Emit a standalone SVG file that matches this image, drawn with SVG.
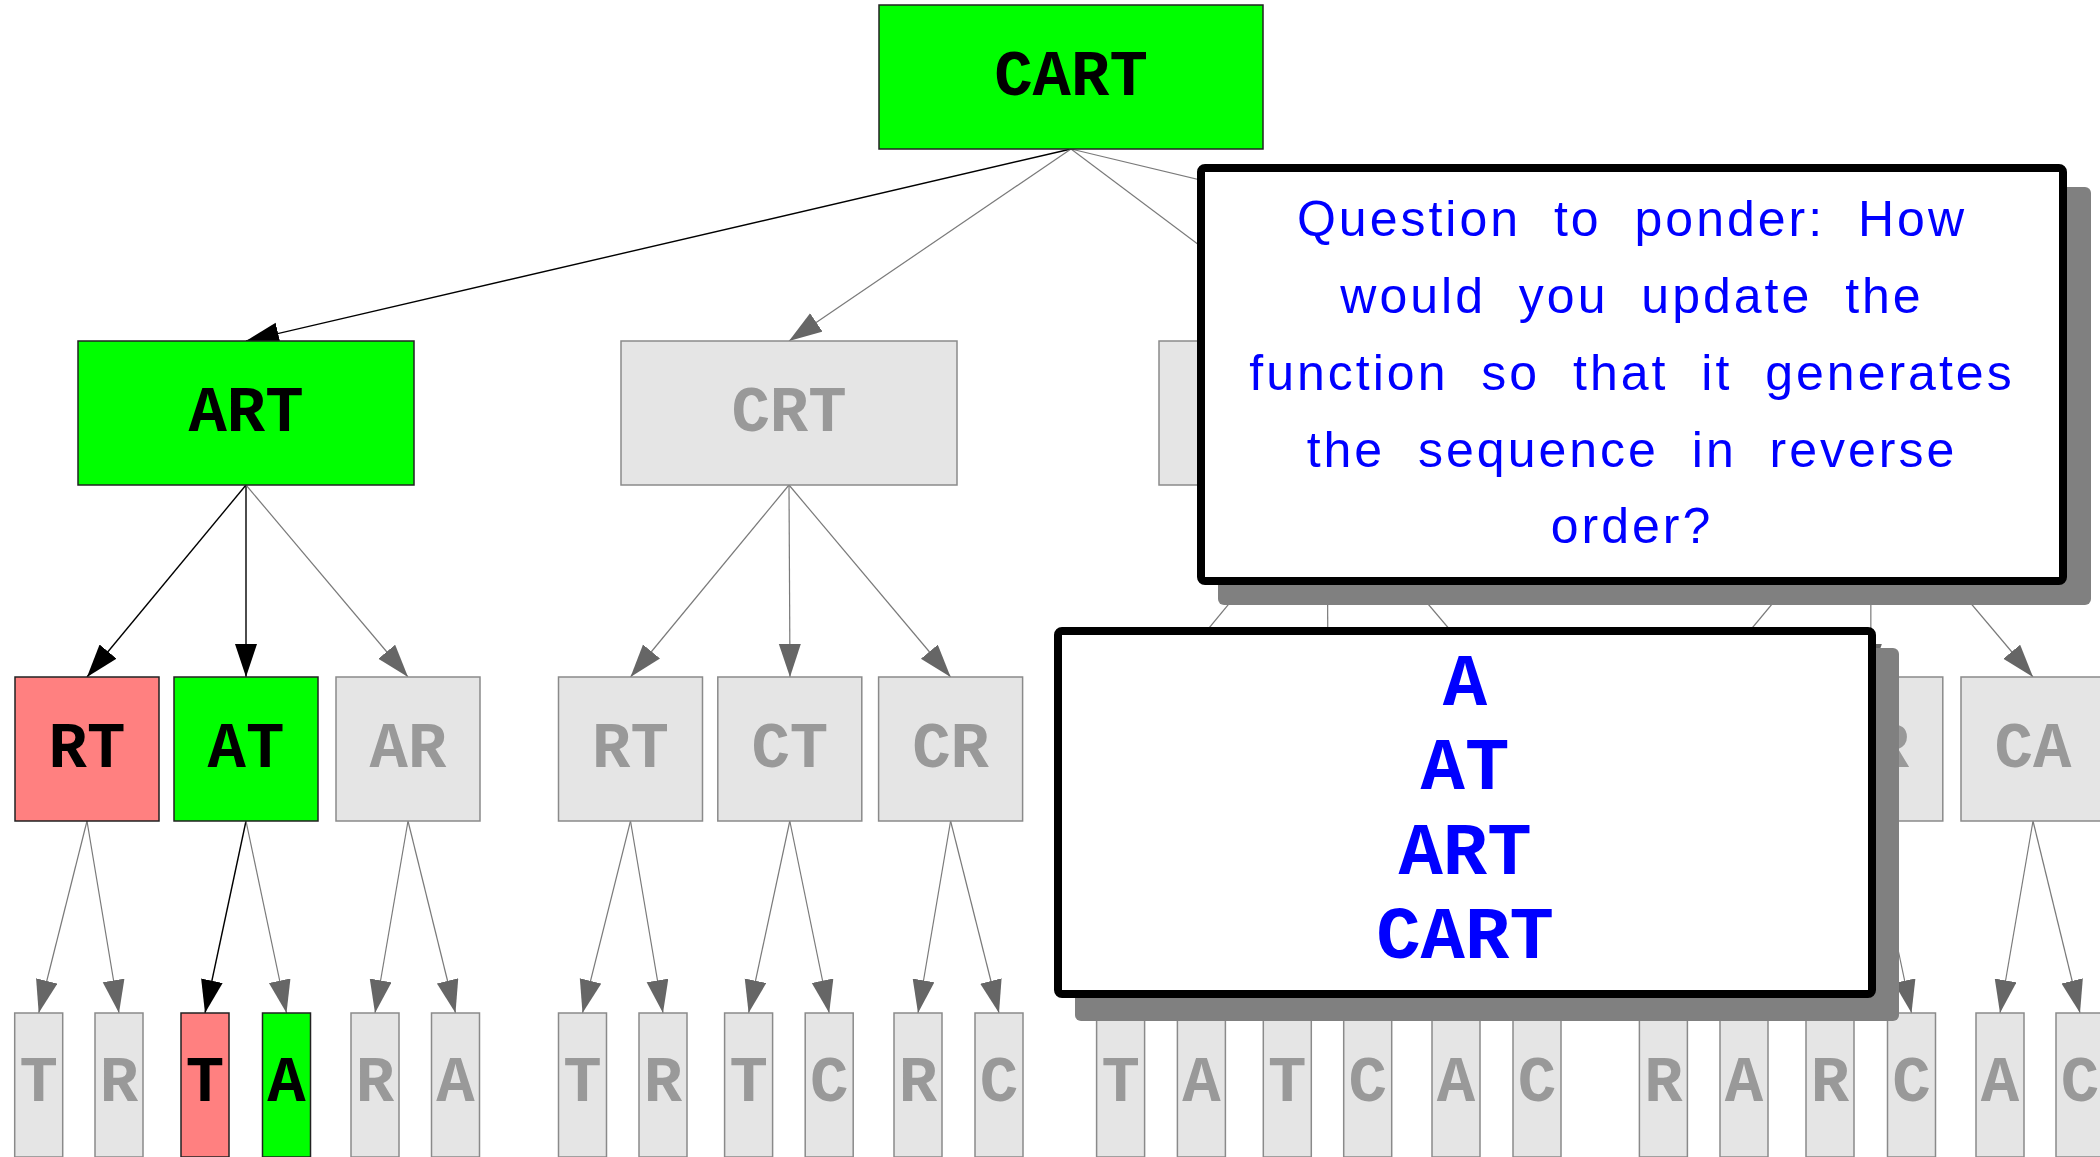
<svg xmlns="http://www.w3.org/2000/svg" width="2100" height="1157" viewBox="0 0 2100 1157">
<style>
.bg{fill:#ffffff}
.gray rect{fill:#e5e5e5;stroke:#8a8a8a;stroke-width:1.5}
.gray text{fill:#999999}
.green rect{fill:#00ff00;stroke:#222222;stroke-width:1.5}
.red rect{fill:#ff8080;stroke:#222222;stroke-width:1.5}
.green text,.red text{fill:#000000}
.lbl{font-family:"Liberation Mono","Courier New",monospace;font-weight:bold;font-size:64px;text-anchor:middle}
.e{stroke:#7a7a7a;stroke-width:1.2;fill:none;marker-end:url(#ag)}
.eb{stroke:#000000;stroke-width:1.4;fill:none;marker-end:url(#ab)}
.shadow{fill:#808080}
.callout{fill:#ffffff;stroke:#000000;stroke-width:8}
.q{font-family:"Liberation Sans","Noto Sans",sans-serif;font-size:50px;fill:#0000ff;text-anchor:middle;letter-spacing:3px;word-spacing:16px}
.ans{font-family:"Liberation Mono","Courier New",monospace;font-weight:bold;font-size:74px;fill:#0000ff;text-anchor:middle}
</style>
<defs>
<marker id="ag" markerUnits="userSpaceOnUse" markerWidth="34" markerHeight="24" refX="33" refY="11" orient="auto"><path d="M0,0 L33,11 L0,22 z" fill="#666666"/></marker>
<marker id="ab" markerUnits="userSpaceOnUse" markerWidth="34" markerHeight="24" refX="33" refY="11" orient="auto"><path d="M0,0 L33,11 L0,22 z" fill="#000000"/></marker>
</defs>
<rect class="bg" x="0" y="0" width="2100" height="1157"/>
<g id="edges">
<line class="eb" x1="1071" y1="149" x2="246" y2="341"/>
<line class="e" x1="1071" y1="149" x2="789" y2="341"/>
<line class="e" x1="1071" y1="149" x2="1327" y2="341"/>
<line class="e" x1="1071" y1="149" x2="1871" y2="341"/>
<line class="eb" x1="246" y1="485" x2="87" y2="677"/>
<line class="eb" x1="246" y1="485" x2="246" y2="677"/>
<line class="e" x1="246" y1="485" x2="408" y2="677"/>
<line class="e" x1="789" y1="485" x2="630.5" y2="677"/>
<line class="e" x1="789" y1="485" x2="790" y2="677"/>
<line class="e" x1="789" y1="485" x2="950.6" y2="677"/>
<line class="e" x1="1327" y1="485" x2="1168.6" y2="677"/>
<line class="e" x1="1327" y1="485" x2="1328" y2="677"/>
<line class="e" x1="1327" y1="485" x2="1490" y2="677"/>
<line class="e" x1="1871" y1="485" x2="1711.4" y2="677"/>
<line class="e" x1="1871" y1="485" x2="1870.8" y2="677"/>
<line class="e" x1="1871" y1="485" x2="2033" y2="677"/>
<line class="e" x1="87" y1="821" x2="38.7" y2="1013"/>
<line class="e" x1="87" y1="821" x2="119" y2="1013"/>
<line class="eb" x1="246" y1="821" x2="205" y2="1013"/>
<line class="e" x1="246" y1="821" x2="286.5" y2="1013"/>
<line class="e" x1="408" y1="821" x2="375" y2="1013"/>
<line class="e" x1="408" y1="821" x2="455.5" y2="1013"/>
<line class="e" x1="630.5" y1="821" x2="582.5" y2="1013"/>
<line class="e" x1="630.5" y1="821" x2="663" y2="1013"/>
<line class="e" x1="789.8" y1="821" x2="748.6" y2="1013"/>
<line class="e" x1="789.8" y1="821" x2="829.2" y2="1013"/>
<line class="e" x1="950.6" y1="821" x2="918" y2="1013"/>
<line class="e" x1="950.6" y1="821" x2="999" y2="1013"/>
<line class="e" x1="1168.6" y1="821" x2="1120.6" y2="1013"/>
<line class="e" x1="1168.6" y1="821" x2="1201.4" y2="1013"/>
<line class="e" x1="1328" y1="821" x2="1287.3" y2="1013"/>
<line class="e" x1="1328" y1="821" x2="1367.7" y2="1013"/>
<line class="e" x1="1490" y1="821" x2="1456" y2="1013"/>
<line class="e" x1="1490" y1="821" x2="1537" y2="1013"/>
<line class="e" x1="1711.4" y1="821" x2="1663.4" y2="1013"/>
<line class="e" x1="1711.4" y1="821" x2="1744" y2="1013"/>
<line class="e" x1="1870.8" y1="821" x2="1830" y2="1013"/>
<line class="e" x1="1870.8" y1="821" x2="1911.5" y2="1013"/>
<line class="e" x1="2033" y1="821" x2="2000" y2="1013"/>
<line class="e" x1="2033" y1="821" x2="2080" y2="1013"/>
</g>
<g id="n-CART" class="green"><rect x="879" y="5" width="384" height="144"/><text class="lbl" x="1071" y="95">CART</text></g>
<g id="n-ART" class="green"><rect x="78" y="341" width="336" height="144"/><text class="lbl" x="246" y="431">ART</text></g>
<g id="n-CRT" class="gray"><rect x="621" y="341" width="336" height="144"/><text class="lbl" x="789" y="431">CRT</text></g>
<g id="n-CAT" class="gray"><rect x="1159" y="341" width="336" height="144"/></g>
<g id="n-CAR" class="gray"><rect x="1703" y="341" width="336" height="144"/></g>
<g id="n-ART-RT" class="red"><rect x="15" y="677" width="144" height="144"/><text class="lbl" x="87" y="767">RT</text></g>
<g id="n-ART-AT" class="green"><rect x="174" y="677" width="144" height="144"/><text class="lbl" x="246" y="767">AT</text></g>
<g id="n-ART-AR" class="gray"><rect x="336" y="677" width="144" height="144"/><text class="lbl" x="408" y="767">AR</text></g>
<g id="n-CRT-RT" class="gray"><rect x="558.5" y="677" width="144" height="144"/><text class="lbl" x="630.5" y="767">RT</text></g>
<g id="n-CRT-CT" class="gray"><rect x="717.8" y="677" width="144" height="144"/><text class="lbl" x="789.8" y="767">CT</text></g>
<g id="n-CRT-CR" class="gray"><rect x="878.6" y="677" width="144" height="144"/><text class="lbl" x="950.6" y="767">CR</text></g>
<g id="n-CAT-AT" class="gray"><rect x="1096.6" y="677" width="144" height="144"/></g>
<g id="n-CAT-CT" class="gray"><rect x="1256" y="677" width="144" height="144"/></g>
<g id="n-CAT-CA" class="gray"><rect x="1418" y="677" width="144" height="144"/></g>
<g id="n-CAR-AR" class="gray"><rect x="1639.4" y="677" width="144" height="144"/></g>
<g id="n-CAR-CR" class="gray"><rect x="1798.8" y="677" width="144" height="144"/><text class="lbl" x="1870.8" y="767">CR</text></g>
<g id="n-CAR-CA" class="gray"><rect x="1961" y="677" width="144" height="144"/><text class="lbl" x="2033" y="767">CA</text></g>
<g id="l1" class="gray"><rect x="14.7" y="1013" width="48" height="144"/><text class="lbl" x="38.7" y="1101">T</text></g>
<g id="l2" class="gray"><rect x="95" y="1013" width="48" height="144"/><text class="lbl" x="119" y="1101">R</text></g>
<g id="l3" class="red"><rect x="181" y="1013" width="48" height="144"/><text class="lbl" x="205" y="1101">T</text></g>
<g id="l4" class="green"><rect x="262.5" y="1013" width="48" height="144"/><text class="lbl" x="286.5" y="1101">A</text></g>
<g id="l5" class="gray"><rect x="351" y="1013" width="48" height="144"/><text class="lbl" x="375" y="1101">R</text></g>
<g id="l6" class="gray"><rect x="431.5" y="1013" width="48" height="144"/><text class="lbl" x="455.5" y="1101">A</text></g>
<g id="l7" class="gray"><rect x="558.5" y="1013" width="48" height="144"/><text class="lbl" x="582.5" y="1101">T</text></g>
<g id="l8" class="gray"><rect x="639" y="1013" width="48" height="144"/><text class="lbl" x="663" y="1101">R</text></g>
<g id="l9" class="gray"><rect x="724.6" y="1013" width="48" height="144"/><text class="lbl" x="748.6" y="1101">T</text></g>
<g id="l10" class="gray"><rect x="805.2" y="1013" width="48" height="144"/><text class="lbl" x="829.2" y="1101">C</text></g>
<g id="l11" class="gray"><rect x="894" y="1013" width="48" height="144"/><text class="lbl" x="918" y="1101">R</text></g>
<g id="l12" class="gray"><rect x="975" y="1013" width="48" height="144"/><text class="lbl" x="999" y="1101">C</text></g>
<g id="l13" class="gray"><rect x="1096.6" y="1013" width="48" height="144"/><text class="lbl" x="1120.6" y="1101">T</text></g>
<g id="l14" class="gray"><rect x="1177.4" y="1013" width="48" height="144"/><text class="lbl" x="1201.4" y="1101">A</text></g>
<g id="l15" class="gray"><rect x="1263.3" y="1013" width="48" height="144"/><text class="lbl" x="1287.3" y="1101">T</text></g>
<g id="l16" class="gray"><rect x="1343.7" y="1013" width="48" height="144"/><text class="lbl" x="1367.7" y="1101">C</text></g>
<g id="l17" class="gray"><rect x="1432" y="1013" width="48" height="144"/><text class="lbl" x="1456" y="1101">A</text></g>
<g id="l18" class="gray"><rect x="1513" y="1013" width="48" height="144"/><text class="lbl" x="1537" y="1101">C</text></g>
<g id="l19" class="gray"><rect x="1639.4" y="1013" width="48" height="144"/><text class="lbl" x="1663.4" y="1101">R</text></g>
<g id="l20" class="gray"><rect x="1720" y="1013" width="48" height="144"/><text class="lbl" x="1744" y="1101">A</text></g>
<g id="l21" class="gray"><rect x="1806" y="1013" width="48" height="144"/><text class="lbl" x="1830" y="1101">R</text></g>
<g id="l22" class="gray"><rect x="1887.5" y="1013" width="48" height="144"/><text class="lbl" x="1911.5" y="1101">C</text></g>
<g id="l23" class="gray"><rect x="1976" y="1013" width="48" height="144"/><text class="lbl" x="2000" y="1101">A</text></g>
<g id="l24" class="gray"><rect x="2056" y="1013" width="48" height="144"/><text class="lbl" x="2080" y="1101">C</text></g>
<g id="callout-question">
<rect class="shadow" x="1218" y="187" width="873" height="418" rx="6"/>
<rect class="callout" x="1201" y="168" width="862" height="413" rx="4"/>
<text class="q" x="1632" y="236">Question to ponder: How</text>
<text class="q" x="1632" y="313">would you update the</text>
<text class="q" x="1632" y="390">function so that it generates</text>
<text class="q" x="1632" y="467">the sequence in reverse</text>
<text class="q" x="1632" y="543">order?</text>
</g>
<g id="callout-answer">
<rect class="shadow" x="1075" y="648" width="824" height="373" rx="6"/>
<rect class="callout" x="1058" y="631" width="814" height="363" rx="4"/>
<text class="ans" x="1465" y="705">A</text>
<text class="ans" x="1465" y="789">AT</text>
<text class="ans" x="1465" y="874">ART</text>
<text class="ans" x="1465" y="958">CART</text>
</g>
</svg>
